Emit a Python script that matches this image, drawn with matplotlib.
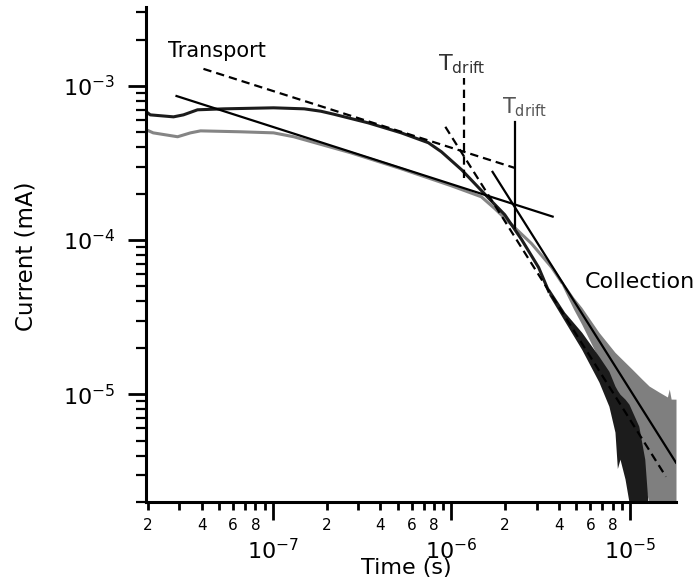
import numpy as np
import matplotlib
matplotlib.use("Agg")
import matplotlib.pyplot as plt
from matplotlib.ticker import LogLocator, FuncFormatter, LogFormatterSciNotation, NullFormatter

# dark trace (time s, current mA)
dark_t = [1.96e-8, 2.06e-8, 2.78e-8, 3.16e-8, 3.79e-8, 5.31e-8, 1.01e-7, 1.50e-7, 1.86e-7, 2.20e-7,
          3.42e-7, 5.24e-7, 7.43e-7, 8.79e-7, 1.14e-6, 1.61e-6, 1.99e-6, 2.47e-6, 3.08e-6, 3.51e-6]
dark_i = [6.79e-4, 6.49e-4, 6.30e-4, 6.49e-4, 7.00e-4, 7.10e-4, 7.21e-4, 7.10e-4, 6.85e-4, 6.55e-4,
          5.76e-4, 4.96e-4, 4.28e-4, 3.74e-4, 2.86e-4, 1.88e-4, 1.46e-4, 1.01e-4, 6.64e-5, 4.64e-5]

# noisy tail of the dark trace (envelope)
dark_tail_t = [3.51e-6, 4.31e-6, 5.37e-6, 6.70e-6, 7.62e-6, 8.24e-6, 8.50e-6, 8.79e-6, 9.38e-6,
               9.87e-6, 1.12e-5, 1.21e-5, 1.26e-5]
dark_tail_hi = [4.90e-5, 3.40e-5, 2.52e-5, 1.76e-5, 1.41e-5, 1.13e-5, 1.06e-5, 1.00e-5, 9.29e-6,
                8.62e-6, 6.21e-6, 3.79e-6, 2.0e-6]
dark_tail_lo = [4.40e-5, 2.97e-5, 1.95e-5, 1.20e-5, 8.36e-6, 5.68e-6, 3.30e-6, 3.79e-6, 2.82e-6,
                2.0e-6, 2.0e-6, 2.0e-6, 2.0e-6]

# grey trace
grey_t = [1.96e-8, 2.14e-8, 2.93e-8, 3.46e-8, 3.94e-8, 6.61e-8, 1.01e-7, 1.31e-7, 2.74e-7,
          5.24e-7, 1.00e-6, 1.47e-6, 1.75e-6, 2.17e-6, 2.81e-6, 3.65e-6, 4.15e-6]
grey_i = [5.19e-4, 4.96e-4, 4.68e-4, 4.96e-4, 5.11e-4, 5.04e-4, 4.96e-4, 4.68e-4, 3.68e-4,
          2.90e-4, 2.25e-4, 1.91e-4, 1.60e-4, 1.26e-4, 9.49e-5, 6.64e-5, 5.31e-5]

grey_tail_t = [4.15e-6, 4.84e-6, 5.37e-6, 6.70e-6, 8.24e-6, 1.03e-5, 1.17e-5, 1.28e-5, 1.46e-5,
               1.62e-5, 1.66e-5, 1.70e-5, 1.81e-5]
grey_tail_hi = [5.50e-5, 4.25e-5, 3.66e-5, 2.52e-5, 1.87e-5, 1.45e-5, 1.25e-5, 1.13e-5, 1.03e-5,
                9.6e-6, 1.08e-5, 9.3e-6, 9.29e-6]
grey_tail_lo = [5.10e-5, 3.55e-5, 2.84e-5, 1.69e-5, 1.08e-5, 5.93e-6, 2.82e-6, 2.0e-6, 2.0e-6,
                2.0e-6, 2.0e-6, 2.0e-6, 2.0e-6]

# power-law fits
transport_solid_t = [2.89e-8, 3.69e-6]
transport_solid_i = [8.6e-4, 1.42e-4]
transport_dash_t = [4.09e-8, 2.26e-6]
transport_dash_i = [1.29e-3, 2.94e-4]
collect_solid_t = [1.7e-6, 1.81e-5]
collect_solid_i = [2.77e-4, 3.6e-6]
collect_dash_t = [9.25e-7, 1.59e-5]
collect_dash_i = [5.43e-4, 2.92e-6]

# transit times
tdrift_solid_t = 2.26e-6
tdrift_solid_i = [1.2e-4, 5.85e-4]
tdrift_dash_t = 1.17e-6
tdrift_dash_i = [2.54e-4, 1.13e-3]

plt.rcParams['axes.unicode_minus'] = False
plt.rcParams['lines.scale_dashes'] = False

W, H = 697, 588
fig = plt.figure(figsize=(W / 100, H / 100), dpi=100)
ax = fig.add_axes([146 / W, 1 - 502 / H, 530 / W, 495 / H])
ax.set_xscale('log')
ax.set_yscale('log')
ax.set_xlim(1.95e-8, 1.81e-5)
ax.set_ylim(2.0e-6, 3.25e-3)

grey = '#858585'
dark = '#1c1c1c'

ax.fill_between(grey_tail_t, grey_tail_lo, grey_tail_hi, color='#7f7f7f', lw=0, zorder=1)
ax.plot(grey_t, grey_i, color=grey, lw=2.2, zorder=1.5)
ax.fill_between(dark_tail_t, dark_tail_lo, dark_tail_hi, color=dark, lw=0, zorder=2)
ax.plot(dark_t, dark_i, color=dark, lw=2.2, zorder=2.5)

dash = (6, 3.6)
ax.plot(transport_solid_t, transport_solid_i, color='k', lw=1.6, zorder=3)
ax.plot(transport_dash_t, transport_dash_i, color='k', lw=1.6, dashes=dash, zorder=3)
ax.plot(collect_solid_t, collect_solid_i, color='k', lw=1.6, zorder=3)
ax.plot(collect_dash_t, collect_dash_i, color='k', lw=1.6, dashes=dash, zorder=3)
ax.plot([tdrift_solid_t] * 2, tdrift_solid_i, color='k', lw=1.6, zorder=3)
ax.plot([tdrift_dash_t] * 2, tdrift_dash_i, color='k', lw=1.6, dashes=dash, zorder=3)

# axes styling
for s in ['top', 'right']:
    ax.spines[s].set_visible(False)
for s in ['left', 'bottom']:
    ax.spines[s].set_linewidth(2.2)

ax.xaxis.set_major_locator(LogLocator(base=10, numticks=20))
ax.xaxis.set_minor_locator(LogLocator(base=10, subs=np.arange(2, 10), numticks=20))
ax.yaxis.set_major_locator(LogLocator(base=10, numticks=20))
ax.yaxis.set_minor_locator(LogLocator(base=10, subs=np.arange(2, 10), numticks=20))


def minor_fmt(v, pos):
    m = v / 10 ** np.floor(np.log10(v) + 1e-9)
    m = int(round(m))
    return str(m) if m in (2, 4, 6, 8) else ''


ax.xaxis.set_major_formatter(LogFormatterSciNotation())
ax.xaxis.set_minor_formatter(FuncFormatter(minor_fmt))
ax.yaxis.set_minor_formatter(NullFormatter())

ax.tick_params(axis='x', which='major', direction='out', length=13, width=2, labelsize=16, pad=13)
ax.tick_params(axis='x', which='minor', direction='out', length=5.5, width=2, labelsize=11, pad=6)
ax.tick_params(axis='y', which='major', direction='out', length=13, width=2, labelsize=16, pad=9)
ax.tick_params(axis='y', which='minor', direction='out', length=7, width=1.6)

# labels and annotations
fig.text(26 / W, 1 - 256 / H, 'Current (mA)', rotation=90, ha='center', va='center', fontsize=16.5)
fig.text(406 / W, 1 - 568 / H, 'Time (s)', ha='center', va='center', fontsize=16)
fig.text(168 / W, 1 - 57 / H, 'Transport', ha='left', va='baseline', fontsize=15)
fig.text(585 / W, 1 - 288 / H, 'Collection', ha='left', va='baseline', fontsize=16)
fig.text(438 / W, 1 - 70 / H, r'T$_{\mathregular{drift}}$', ha='left', va='baseline',
         fontsize=16, color='#333333')
fig.text(502 / W, 1 - 113 / H, r'T$_{\mathregular{drift}}$', ha='left', va='baseline',
         fontsize=15, color='#555555')

fig.savefig('out.png', dpi=100)
